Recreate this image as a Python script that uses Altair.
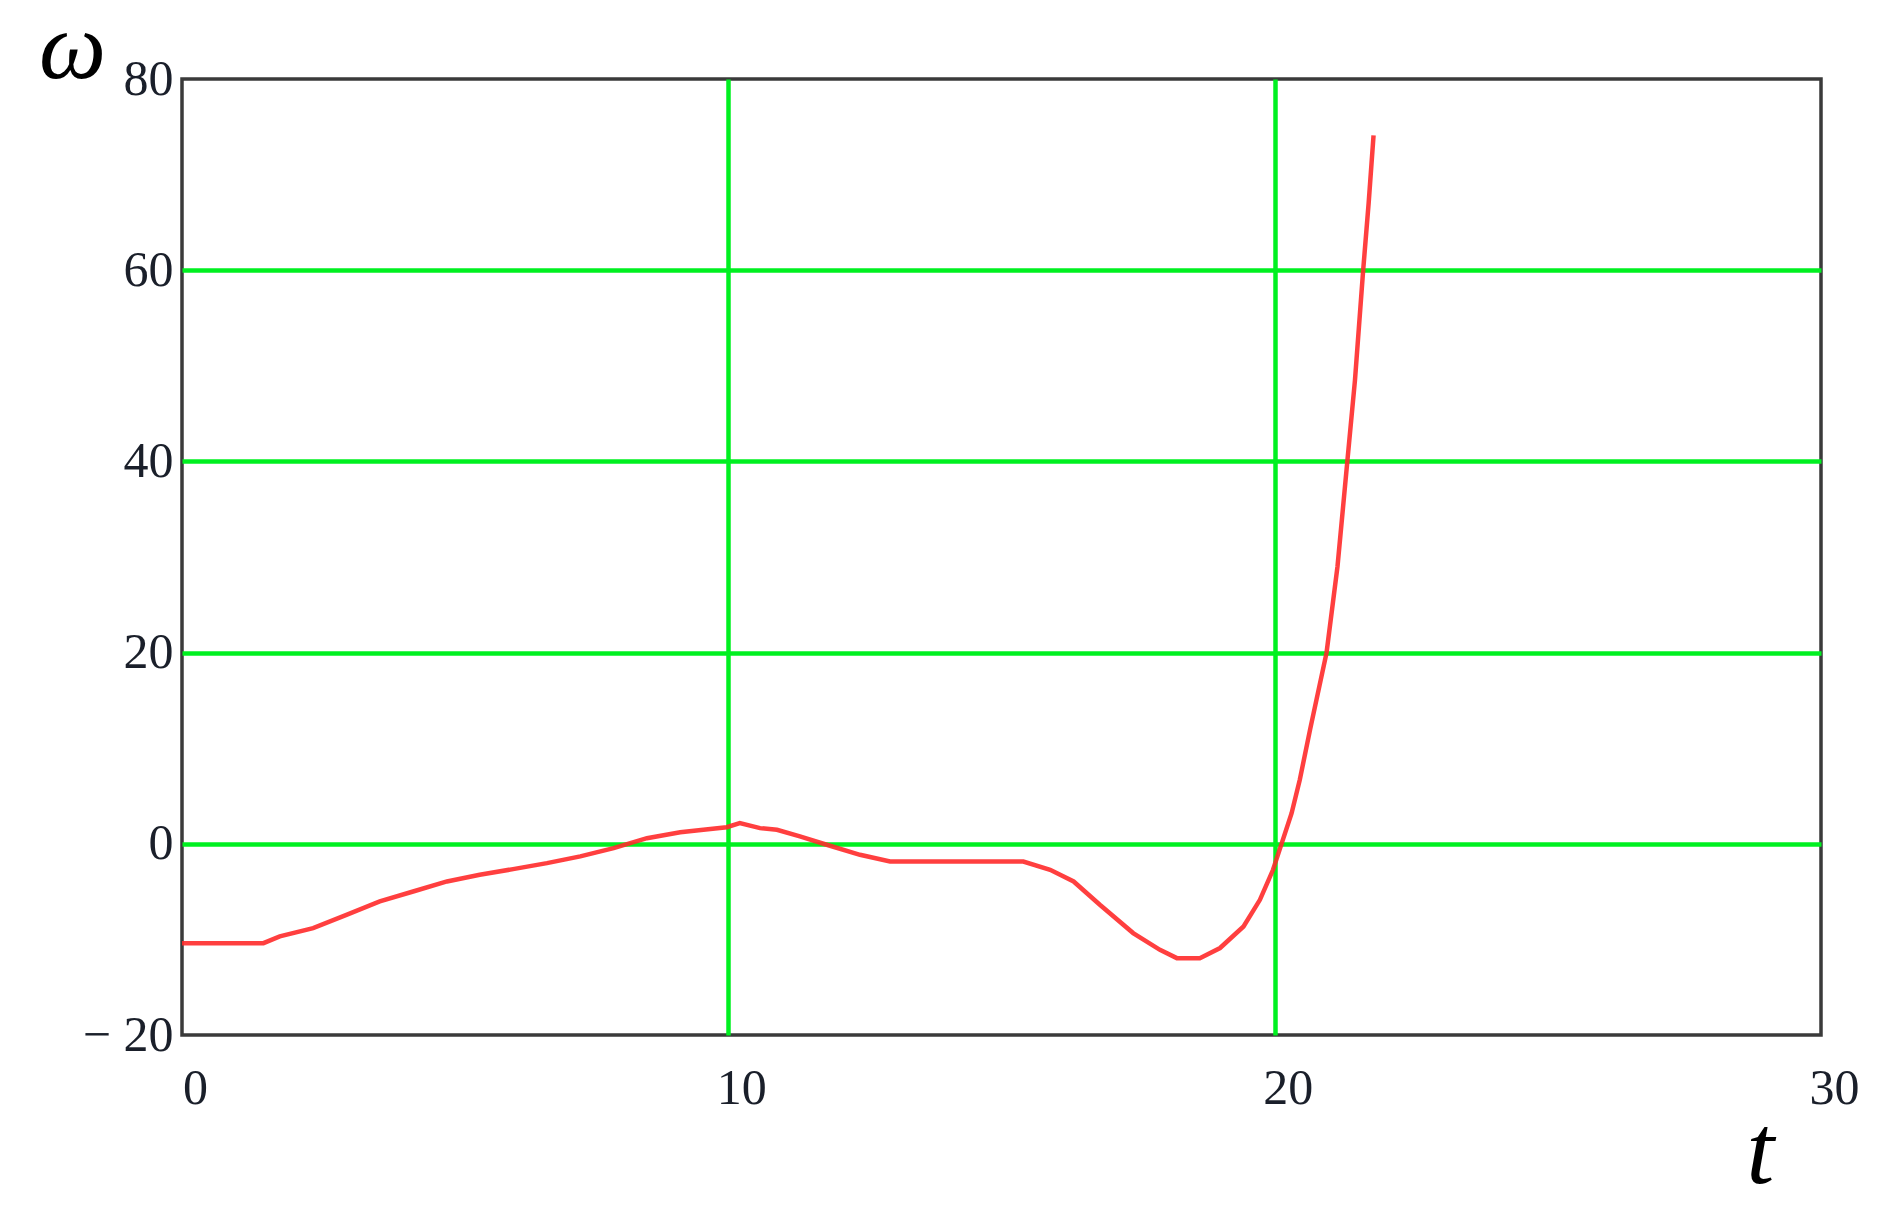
import altair as alt
import pandas as pd

t_vals = [0, 1.49, 1.79, 2.40, 3.01, 3.62, 4.23, 4.85, 5.45, 6.06, 6.68, 7.29, 7.90,
          8.51, 9.12, 9.5, 9.97, 10.21, 10.58, 10.89, 11.31, 11.80, 12.41, 12.96,
          15.40, 15.89, 16.32, 16.80, 17.41, 17.90, 18.21, 18.63, 19.0, 19.43,
          19.73, 19.97, 20.13, 20.31, 20.46, 20.65, 20.95, 21.15, 21.33, 21.47,
          21.62, 21.72, 21.81]
omega_vals = [-10.39, -10.39, -9.69, -8.82, -7.43, -6.03, -4.99, -3.94, -3.24, -2.65,
              -2.02, -1.32, -0.45, 0.59, 1.2, 1.45, 1.74, 2.16, 1.64, 1.46, 0.77,
              -0.1, -1.15, -1.85, -1.85, -2.72, -3.94, -6.38, -9.34, -11.09, -11.96,
              -11.96, -10.9, -8.65, -5.86, -2.72, 0.07, 3.2, 6.7, 12, 20, 29, 40,
              48.5, 60, 67, 74.1]

x_ticks = [0, 10, 20, 30]
y_ticks = [-20, 0, 20, 40, 60, 80]

df = pd.DataFrame({"t": t_vals, "omega": omega_vals})

FONT = "Liberation Serif"
GREEN = "#00f020"

x_grid_op = {"condition": {"test": "datum.value == 0 || datum.value == 30", "value": 0}, "value": 1}
y_grid_op = {"condition": {"test": "datum.value == -20 || datum.value == 80", "value": 0}, "value": 1}

chart = alt.Chart(df).mark_line(color="#ff2a2a", strokeWidth=4.5, opacity=0.9).encode(
    x=alt.X("t:Q", scale=alt.Scale(domain=[0, 30], nice=False, zero=False),
            axis=alt.Axis(values=x_ticks, title="t", titleAngle=0,
                          titleX=1578, titleY=147, titleAlign="center",
                          titleBaseline="alphabetic", titleFont=FONT,
                          titleFontStyle="italic", titleFontWeight="normal",
                          titleFontSize=100, titleColor="#000000",
                          labelFont=FONT, labelFontSize=50, labelColor="#1a1f2a",
                          labelPadding=28, labelOffset=13, labelFlush=False,
                          labelOverlap=False,
                          domain=False, ticks=False, grid=True,
                          gridColor=GREEN, gridWidth=4.5, gridOpacity=x_grid_op)),
    y=alt.Y("omega:Q", scale=alt.Scale(domain=[-20, 80], nice=False, zero=False),
            axis=alt.Axis(values=y_ticks, title="ω", titleAngle=0,
                          titleX=-110, titleY=-2, titleAlign="center",
                          titleBaseline="alphabetic", titleFont=FONT,
                          titleFontStyle="italic", titleFontWeight="normal",
                          titleFontSize=95, titleColor="#000000",
                          labelFont=FONT, labelFontSize=50, labelColor="#1a1f2a",
                          labelPadding=9, labelFlush=False, labelOverlap=False,
                          domain=False, ticks=False, grid=True,
                          gridColor=GREEN, gridWidth=4.5, gridOpacity=y_grid_op,
                          labelExpr="datum.value < 0 ? '− ' + abs(datum.value) : datum.label")),
).properties(
    width=1639, height=956,
    autosize=alt.AutoSizeParams(type="none"),
    padding={"left": 174, "top": 71, "right": 40, "bottom": 170},
).configure(
    background="white"
).configure_view(
    stroke="#3a3a3a", strokeWidth=3.5
)

chart.save("out.html", embed_options={"renderer": "svg", "actions": False})
